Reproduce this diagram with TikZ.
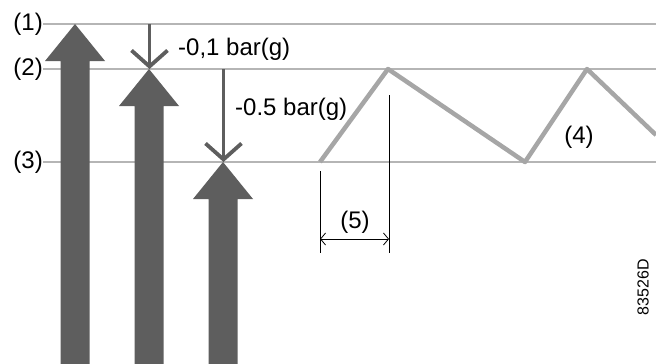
\documentclass[tikz,border=0pt]{standalone}
\usepackage{fontspec}
\setmainfont{Liberation Sans}
\usetikzlibrary{arrows.meta}
\definecolor{darkfill}{HTML}{5E5E5E}
\definecolor{levelgray}{HTML}{B5B5B5}
\definecolor{zig}{HTML}{A6A6A6}
\begin{document}
\begin{tikzpicture}[x=1pt,y=-1pt,
  level/.style={draw=levelgray,line width=2pt},
  lbl/.style={inner sep=0pt,font=\fontsize{24}{28}\selectfont},
  bigarrow/.style={fill=darkfill,draw=none},
  droparrow/.style={draw=darkfill,line width=3.8pt,-{Straight Barb[length=16pt,width=36pt,line width=3.8pt]}},
  dimline/.style={draw=black,line width=0.8pt},
  dimarrow/.style={draw=black,line width=0.8pt,{Straight Barb[length=5pt,width=12pt]}-{Straight Barb[length=5pt,width=12pt]}}]
\useasboundingbox (0,0) rectangle (656,364);

% level labels
\node[lbl,anchor=east] (l1) at (43,24) {(1)};
\node[lbl,anchor=east] (l2) at (43,69) {(2)};
\node[lbl,anchor=east] (l3) at (43,162) {(3)};
\coordinate (r1) at (656,24);
\coordinate (r2) at (656,69);
\coordinate (r3) at (656,162);
\draw[level] (l1.east) -- (r1);
\draw[level] (l2.east) -- (r2);
\draw[level] (l3.east) -- (r3);

% big upward arrows
\foreach \c/\t in {75/24, 149/69, 223/162}{
  \fill[bigarrow] (\c-14.5,364) -- (\c-14.5,\t+37) -- (\c-30,\t+37) -- (\c,\t)
     -- (\c+30,\t+37) -- (\c+14.5,\t+37) -- (\c+14.5,364) -- cycle;
}

% small downward arrows
\coordinate (d1s) at (149.5,24);
\coordinate (d1e) at (149.5,69);
\coordinate (d2s) at (223.5,69);
\coordinate (d2e) at (223.5,162);
\draw[droparrow] (d1s) -- (d1e);
\draw[droparrow] (d2s) -- (d2e);
\node[lbl,anchor=west] (p1) at (178,49) {-0,1 bar(g)};
\node[lbl,anchor=west] (p2) at (235,109) {-0.5 bar(g)};

% zigzag
\coordinate (z0) at (320,162);
\coordinate (z1) at (388,69);
\coordinate (z2) at (525,162);
\coordinate (z3) at (587,69);
\coordinate (z4) at (656,135);
\draw[draw=zig,line width=4.5pt,line join=round] (z0) -- (z1) -- (z2) -- (z3) -- (z4);
\node[lbl] (n4) at (579,137) {(4)};

% dimension (5)
\coordinate (a1) at (320,171);
\coordinate (a2) at (320,253);
\coordinate (b1) at (389,95);
\coordinate (b2) at (389,253);
\draw[dimline] (a1) -- (a2);
\draw[dimline] (b1) -- (b2);
\coordinate (da) at (320,239);
\coordinate (db) at (389,239);
\draw[dimarrow] (da) -- (db);
\node[lbl] (n5) at (355,222) {(5)};

% code
\node[inner sep=0pt,rotate=90,font=\fontsize{16}{19}\selectfont] (code) at (643,287) {83526D};
\end{tikzpicture}
\end{document}
